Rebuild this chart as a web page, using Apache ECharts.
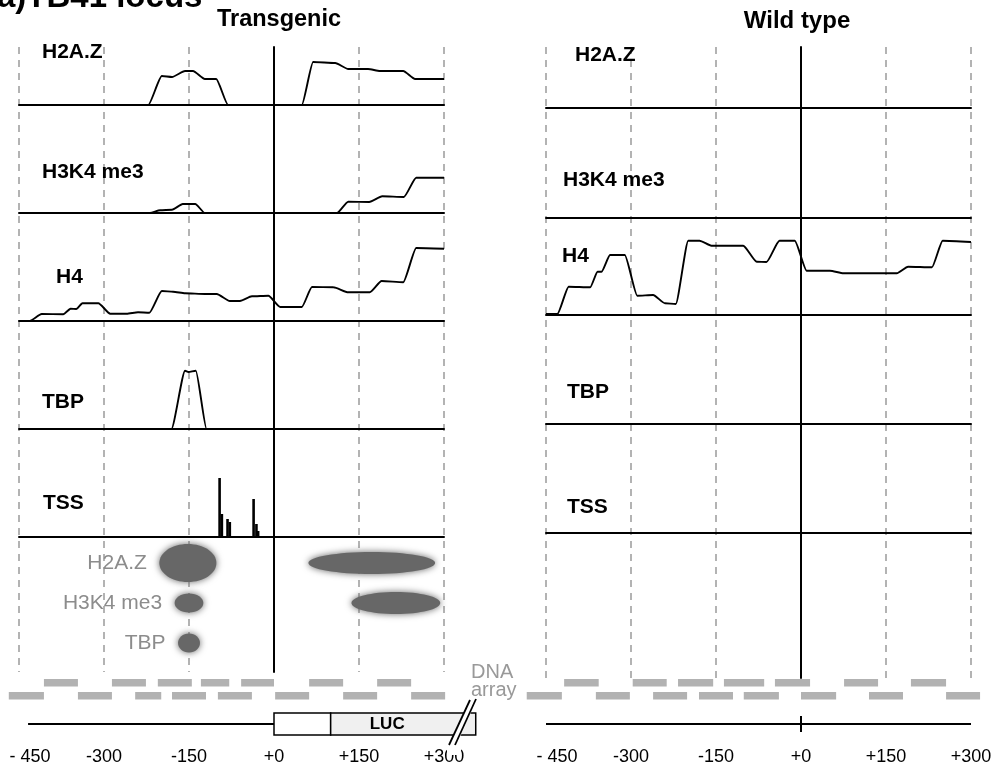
<!DOCTYPE html>
<html>
<head>
<meta charset="utf-8">
<script src="https://cdn.jsdelivr.net/npm/echarts@6/dist/echarts.min.js"></script>
<style>
html, body { margin: 0; padding: 0; background: #fff; }
#chart { width: 997px; height: 770px; }
</style>
</head>
<body>
<div id="chart"></div>
<script>
// ---- data (positions in bp relative to TSS, signal in arbitrary units) ----
var rowNames = ['H2A.Z', 'H3K4 me3', 'H4', 'TBP', 'TSS'];
var tickValues = [-450, -300, -150, 0, 150, 300];

var tgH2AZ = [[-450,0],[-222,0],[-198,29],[-180,28],[-157,34],[-143,34],[-122,26],[-102,26],[-81,0],[49,0],[69,43],[108,42],[131,36],[166,36],[187,34],[228,34],[249,26],[300,26]];
var tgH3K4 = [[-450,0],[-219,0],[-201,2.7],[-180,3.3],[-161,9],[-139,9],[-122,0],[111,0],[131,11.3],[168,11],[191,16.7],[229,16],[251,35.3],[300,35.3]];
var tgH4 = [[-450,0],[-431,0],[-410,7],[-372,6.7],[-359,12.3],[-349,12],[-338,17.7],[-310,17.7],[-289,7.3],[-260,7.3],[-240,8.7],[-220,8.3],[-198,30],[-178,29.3],[-157,27.7],[-122,27],[-101,27],[-78,20],[-60,20],[-39,24.7],[-10,25.3],[11,14],[49,14],[67,34],[105,33.7],[131,28.7],[169,28.7],[190,40],[228,38.7],[251,73],[300,72.3]];
var tgTBP = [[-450,0],[-181,0],[-157,58.3],[-151,57],[-138,58.3],[-119,0],[300,0]];
var tgTSS = [[-96,59],[-92,23],[-82,18],[-78,15],[-36,38],[-31,13],[-28,6]];

var wtH2AZ = [[-450,0],[300,0]];
var wtH3K4 = [[-450,0],[300,0]];
var wtH4 = [[-450,1],[-430,1],[-410,28.3],[-372,27.7],[-359,43.3],[-352,43.3],[-337,60],[-311,60],[-289,19.3],[-261,20],[-240,11.7],[-221,11],[-199,74.3],[-179,74.3],[-158,69.3],[-102,69.3],[-78,53.3],[-61,53],[-38,74.3],[-11,74.3],[10,44.3],[51,44.3],[75,41.7],[169,41.7],[189,48.3],[231,47.7],[250,74.3],[300,73]];
var wtTBP = [[-450,0],[300,0]];
var wtTSS = [];

// enriched regions seen on the tiling array (transgenic only)
var spotRows = ['H2A.Z', 'H3K4 me3', 'TBP'];
var spots = [[-205,-99,'H2A.Z'],[58,287,'H2A.Z'],[-178,-122,'H3K4 me3'],[134,296,'H3K4 me3'],[-172,-128,'TBP']];

// DNA array probes [start, end]
var tgArrayTop = [[-406,-346],[-286,-226],[-205,-145],[-129,-79],[-58,0],[62,122],[182,242]];
var tgArrayBottom = [[-468,-406],[-346,-286],[-245,-199],[-180,-120],[-99,-39],[2,62],[122,182],[242,302]];
var wtArrayTop = [[-418,-357],[-297,-237],[-217,-155],[-136,-65],[-46,16],[76,136],[194,256]];
var wtArrayBottom = [[-484,-422],[-362,-302],[-261,-201],[-180,-120],[-101,-39],[0,62],[120,180],[256,316]];

// transgene: promoter line and LUC box
var tgPromoter = [[-434,0],[0,0]];
var tgBoxes = [[0,100],[100,356]];
var tgBoxNames = ['', 'LUC'];
var wtLocus = [[-450,0],[300,0]];

// ---- layout / style ----
var FONT = '"Liberation Sans", Arial, Helvetica, sans-serif';
var BP_PX = 85 / 150;
var SPOT_H = [40, 24, 21, 24, 21];

var panels = [
  { x0: 19, frameBottom: 672, baselines: [105, 213, 321, 429, 537], extMin: -480, extMax: 360,
    rows: [tgH2AZ, tgH3K4, tgH4, tgTBP, tgTSS], arrTop: tgArrayTop, arrBottom: tgArrayBottom },
  { x0: 546, frameBottom: 678, baselines: [108, 218, 315, 424, 533], extMin: -500, extMax: 330,
    rows: [wtH2AZ, wtH3K4, wtH4, wtTBP, wtTSS], arrTop: wtArrayTop, arrBottom: wtArrayBottom }
];

var grids = [], xAxes = [], yAxes = [], series = [];
var hide = { axisLine: {show: false}, axisTick: {show: false}, axisLabel: {show: false}, splitLine: {show: false} };

function addGrid(left, top, width, height, xa, ya) {
  var i = grids.length;
  grids.push({ left: left, top: top, width: width, height: height });
  xa.gridIndex = i; ya.gridIndex = i;
  xAxes.push(xa); yAxes.push(ya);
  return i;
}
function lineSeries(gi, data, width) {
  return { type: 'line', xAxisIndex: gi, yAxisIndex: gi, data: data, symbol: 'none', silent: true,
    smooth: 0.2, smoothMonotone: 'x', lineStyle: { color: '#000', width: width || 1.9 } };
}

panels.forEach(function (p, pi) {
  var W = 750 * BP_PX;
  // frame: dashed guides every 150 bp and solid line at +0
  var fg = addGrid(p.x0, 47, W, p.frameBottom - 47,
    { type: 'value', min: -450, max: 300, interval: 150, axisLine: {show: false}, axisTick: {show: false}, axisLabel: {show: false},
      splitLine: { show: true, lineStyle: { color: '#9a9a9a', width: 1.5, type: [7, 6] } } },
    { type: 'value', min: 0, max: 1, axisLine: { show: true, onZero: true, lineStyle: { color: '#000', width: 2 } },
      axisTick: {show: false}, axisLabel: {show: false}, splitLine: {show: false} });
  series.push({ type: 'line', xAxisIndex: fg, yAxisIndex: fg, data: [], silent: true });

  // profile rows
  p.rows.forEach(function (data, r) {
    var gi = addGrid(p.x0, p.baselines[r] - 80, W, 80,
      { type: 'value', min: -450, max: 300, axisLine: { show: true, onZero: false, lineStyle: { color: '#000', width: 2 } },
        axisTick: {show: false}, axisLabel: {show: false}, splitLine: {show: false} },
      Object.assign({ type: 'value', min: 0, max: 80, show: false }, hide));
    if (rowNames[r] === 'TSS') {
      series.push({ type: 'bar', xAxisIndex: gi, yAxisIndex: gi, data: data, barWidth: 2.6, silent: true,
        itemStyle: { color: '#000' } });
    } else {
      series.push(lineSeries(gi, data));
    }
  });

  // DNA array probes
  var ext = { type: 'value', min: p.extMin, max: p.extMax, axisLine: {show: false}, axisTick: {show: false}, axisLabel: {show: false}, splitLine: {show: false} };
  var ag = addGrid(p.x0 + (p.extMin + 450) * BP_PX, 676, (p.extMax - p.extMin) * BP_PX, 26,
    Object.assign({}, ext),
    Object.assign({ type: 'category', data: ['upper', 'lower'], inverse: true, show: false }, hide));
  var probes = p.arrTop.map(function (d) { return [d[0], d[1], 0]; })
    .concat(p.arrBottom.map(function (d) { return [d[0], d[1], 1]; }));
  series.push({ type: 'custom', xAxisIndex: ag, yAxisIndex: ag, data: probes, silent: true,
    renderItem: function (params, api) {
      var s = api.coord([api.value(0), api.value(2)]);
      var e = api.coord([api.value(1), api.value(2)]);
      return { type: 'rect', shape: { x: s[0], y: s[1] - 3.5, width: e[0] - s[0], height: 7.5 },
        style: { fill: '#b2b2b2' } };
    } });

  // gene diagram
  var gg = addGrid(p.x0 + (p.extMin + 450) * BP_PX, 713, (p.extMax - p.extMin) * BP_PX, 22,
    Object.assign({}, ext),
    Object.assign({ type: 'value', min: -1, max: 1, show: false }, hide));
  if (pi === 0) {
    series.push(Object.assign(lineSeries(gg, tgPromoter, 2), { smooth: false }));
    series.push({ type: 'custom', xAxisIndex: gg, yAxisIndex: gg, data: tgBoxes, silent: true, z: 3,
      renderItem: function (params, api) {
        var a = api.coord([api.value(0), 1]);
        var b = api.coord([api.value(1), -1]);
        var name = tgBoxNames[params.dataIndex];
        return { type: 'rect', shape: { x: a[0], y: a[1], width: b[0] - a[0], height: b[1] - a[1] },
          style: { fill: name ? '#f0f0f0' : '#fff', stroke: '#000', lineWidth: 1.5 },
          textContent: { style: { text: name, font: 'bold 17px ' + FONT, fill: '#000' } },
          textConfig: { position: 'inside', offset: [-16, 0] } };
      } });
  } else {
    series.push(Object.assign(lineSeries(gg, wtLocus, 2), { smooth: false }));
    series.push(Object.assign(lineSeries(gg, [[0, -0.72], [0, 0.72]], 2), { smooth: false }));
  }

  // bp tick labels
  addGrid(p.x0, 740, W, 1,
    { type: 'value', min: -450, max: 300, interval: 150, axisLine: {show: false}, axisTick: {show: false}, splitLine: {show: false},
      axisLabel: { show: true, margin: 7, fontSize: 18, fontFamily: FONT, color: '#000',
        formatter: function (v) { return v === -450 ? '{p|- 450}' : (v < 0 ? String(v) : '+' + v); },
        rich: { p: { fontSize: 18, fontFamily: FONT, color: '#000', padding: [0, 0, 0, 22] } } } },
    Object.assign({ type: 'value', min: 0, max: 1, show: false }, hide));
  series.push({ type: 'line', xAxisIndex: grids.length - 1, yAxisIndex: grids.length - 1, data: [], silent: true });
});

// spots (transgenic, below TSS row)
var sg = addGrid(19, 543, 750 * BP_PX, 120,
  { type: 'value', min: -450, max: 300, axisLine: {show: false}, axisTick: {show: false}, axisLabel: {show: false}, splitLine: {show: false} },
  Object.assign({ type: 'category', data: spotRows, inverse: true, show: false }, hide));
var firstSpot = {};
spots.forEach(function (d, i) { if (!(d[2] in firstSpot)) firstSpot[d[2]] = i; });
series.push({ type: 'custom', xAxisIndex: sg, yAxisIndex: sg, silent: true, z: 4,
  data: spots.map(function (d) { return [d[0], d[1], spotRows.indexOf(d[2])]; }),
  renderItem: function (params, api) {
    var s = api.coord([api.value(0), api.value(2)]);
    var e = api.coord([api.value(1), api.value(2)]);
    var h = SPOT_H[params.dataIndex];
    var kids = [{ type: 'ellipse',
      shape: { cx: (s[0] + e[0]) / 2, cy: s[1], rx: Math.max((e[0] - s[0]) / 2 - 1.5, 2), ry: Math.max(h / 2 - 1, 2) },
      style: { fill: '#676767', shadowBlur: 7, shadowColor: '#676767' } }];
    var row = spots[params.dataIndex][2];
    if (firstSpot[row] === params.dataIndex) {
      kids.push({ type: 'text', style: { text: row, x: s[0] - 11, y: s[1], align: 'right', verticalAlign: 'middle',
        font: '21px ' + FONT, fill: '#8c8c8c' } });
    }
    return { type: 'group', children: kids };
  } });

// ---- text annotations ----
function txt(t, x, y, size, opts) {
  return Object.assign({ type: 'text', x: x, y: y, z: 50, silent: true,
    style: { text: t, font: (opts && opts.weight ? opts.weight + ' ' : '') + size + 'px ' + FONT,
      fill: (opts && opts.color) || '#000', align: (opts && opts.align) || 'left', verticalAlign: 'middle' } });
}
var labelPos = [
  [[42, 52], [42, 172], [56, 277], [42, 402], [43, 503]],
  [[575, 55], [563, 180], [562, 256], [567, 392], [567, 507]]
];
var graphics = [
  txt('a)TB41 locus', -3, -2, 33, { weight: 'bold' }),
  txt('Transgenic', 279, 20, 23.5, { weight: 'bold', align: 'center' }),
  txt('Wild type', 797, 21, 24, { weight: 'bold', align: 'center' }),
  txt('DNA', 471, 672, 20, { color: '#999' }),
  txt('array', 471, 690, 20, { color: '#999' })
];
labelPos.forEach(function (list) {
  list.forEach(function (pos, r) { graphics.push(txt(rowNames[r], pos[0], pos[1], 21, { weight: 'bold' })); });
});
// break marks on the transgene
graphics.push({ type: 'rect', z: 60, silent: true, shape: { x: 447, y: 745, width: 14, height: 10 }, style: { fill: '#fff' } });
graphics.push({ type: 'polygon', z: 60, silent: true, shape: { points: [[449, 746], [470, 699], [477, 699], [456, 746]] }, style: { fill: '#fff' } });
graphics.push({ type: 'line', z: 61, silent: true, shape: { x1: 449, y1: 745, x2: 470, y2: 700 }, style: { stroke: '#000', lineWidth: 1.8 } });
graphics.push({ type: 'line', z: 61, silent: true, shape: { x1: 455, y1: 745, x2: 476, y2: 699 }, style: { stroke: '#000', lineWidth: 1.8 } });

var chart = echarts.init(document.getElementById('chart'), null, { renderer: 'canvas' });
chart.setOption({
  animation: false,
  backgroundColor: '#fff',
  grid: grids,
  xAxis: xAxes,
  yAxis: yAxes,
  series: series,
  graphic: graphics
});
</script>
</body>
</html>
